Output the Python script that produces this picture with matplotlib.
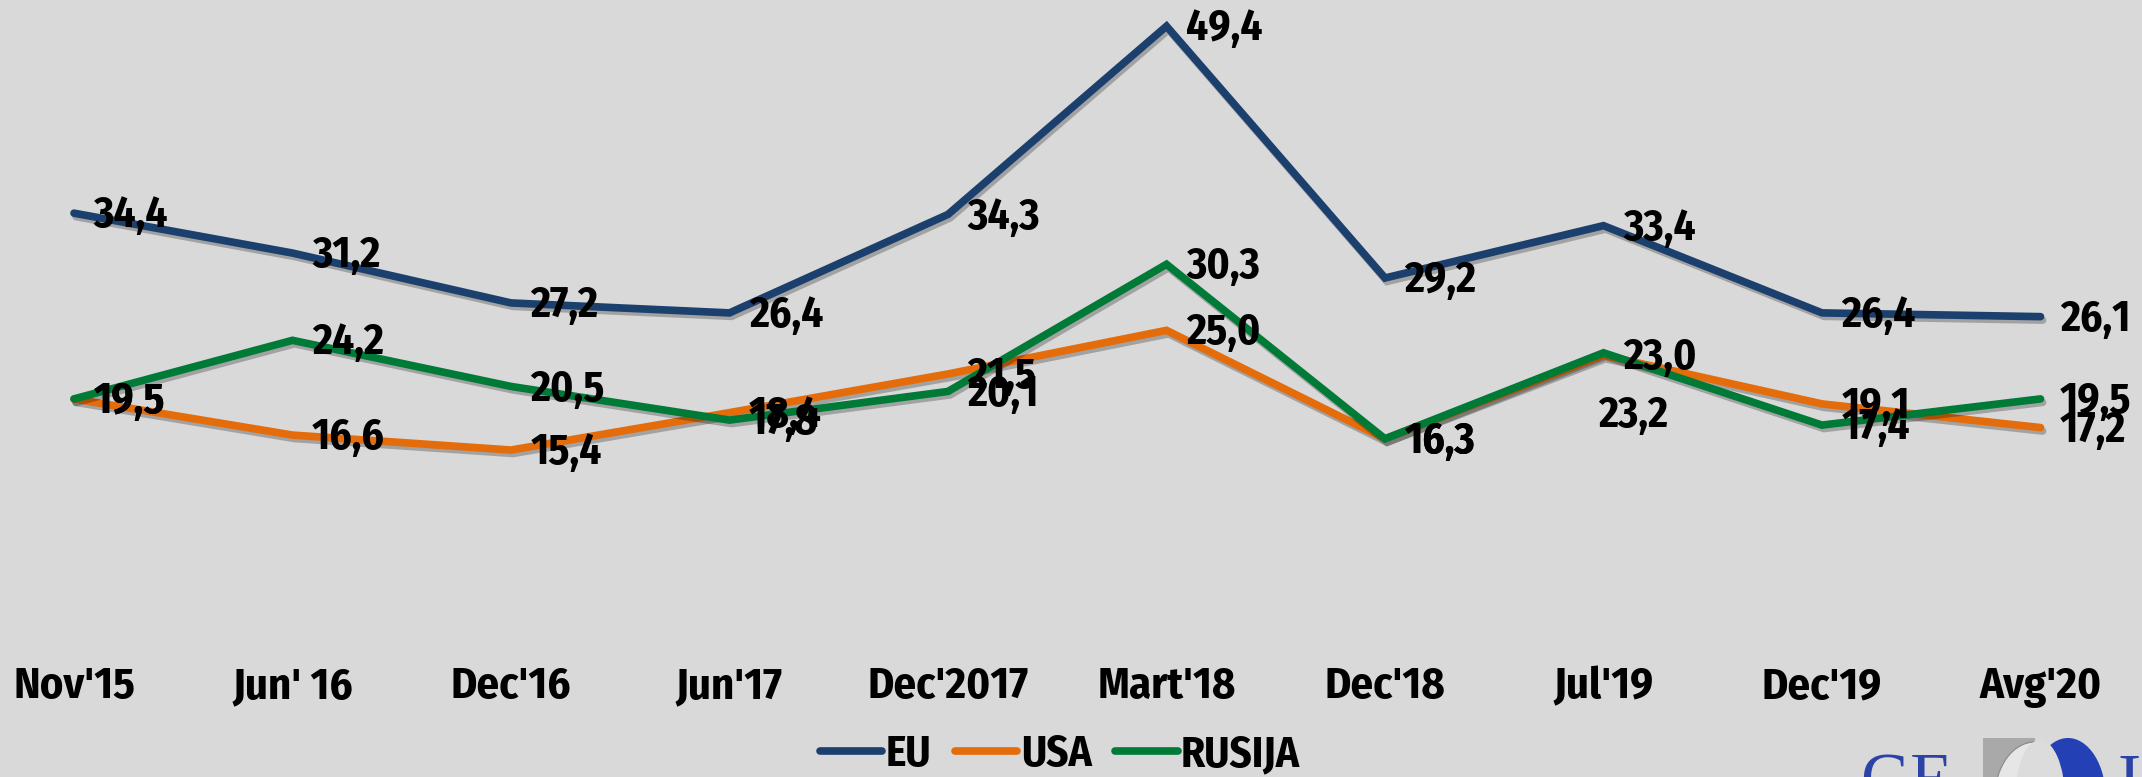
import matplotlib
matplotlib.use("Agg")
import matplotlib.pyplot as plt
import matplotlib.patheffects as pe
from matplotlib.patches import Rectangle, Ellipse

categories = ["Nov'15", "Jun' 16", "Dec'16", "Jun'17", "Dec'2017",
              "Mart'18", "Dec'18", "Jul'19", "Dec'19", "Avg'20"]
eu = [34.4, 31.2, 27.2, 26.4, 34.3, 49.4, 29.2, 33.4, 26.4, 26.1]
usa = [19.5, 16.6, 15.4, 18.4, 21.5, 25.0, 16.3, 23.0, 19.1, 17.2]
rusija = [19.5, 24.2, 20.5, 17.8, 20.1, 30.3, 16.3, 23.2, 17.4, 19.5]
series_names = ["EU", "USA", "RUSIJA"]

colors = ["#1C406E", "#E46C0A", "#007A37"]
bg = "#D9D9D9"
FONT = ["Fira Sans Condensed", "DejaVu Sans"]
plt.rcParams['font.family'] = FONT

W, H = 2142, 777
fig = plt.figure(figsize=(W / 100, H / 100), dpi=100, facecolor=bg)
ax = fig.add_axes([0, 1 - 642 / H, 1, 642 / H])
ax.set_facecolor(bg)
x0_px, step_px = 74, 218.5
ax.set_xlim(-x0_px / step_px, (W - x0_px) / step_px)
ax.set_ylim(0, 51.5)
for s in ax.spines.values():
    s.set_visible(False)
ax.set_yticks([])
xs = list(range(len(categories)))
ax.set_xticks(xs)
ax.set_xticklabels(categories, fontsize=32, fontweight='bold', color='black')
ax.tick_params(axis='x', length=0, pad=17)

shadow = [pe.SimpleLineShadow(offset=(1.5, -2.5), alpha=0.25, shadow_color='black'),
          pe.Normal()]
data = [eu, usa, rusija]
zs = [3, 2, 4]
for vals, c, name, z in zip(data, colors, series_names, zs):
    ax.plot(xs, vals, color=c, lw=5.5, label=name, zorder=z,
            solid_capstyle='round', solid_joinstyle='miter', path_effects=shadow)

def fmt(v):
    return f"{v:.1f}".replace('.', ',')

for si, vals in enumerate(data):
    for i, v in enumerate(vals):
        dx, dy = 14, -2
        ha = 'left'
        if si == 2 and i == 7:
            dx, dy = 21, -45
            ha = 'center'
        ax.annotate(fmt(v), (i, v), xytext=(dx, dy), textcoords='offset points',
                    ha=ha, va='center', fontsize=31, fontweight='bold',
                    color='black', zorder=6, annotation_clip=False)

leg = fig.legend(loc='center', bbox_to_anchor=(1060 / W, 1 - 755 / H), ncol=3,
                 frameon=False, handlelength=1.45, handletextpad=0.08,
                 columnspacing=0.55, prop={'weight': 'bold', 'size': 31, 'family': FONT})
for line in leg.get_lines():
    line.set_linewidth(5.5)
    line.set_solid_capstyle('round')
    line.set_path_effects([])

# partial logo in the bottom right corner
fig.text(1860 / W, -25 / H, "GE", fontsize=50, family="Liberation Serif",
         color="#2B43A6", ha='left', va='baseline')
fig.patches.append(Rectangle((1983 / W, 0), 52 / W, 39 / H, transform=fig.transFigure,
                             facecolor="#A9A9A9", edgecolor='none'))
fig.patches.append(Ellipse((2035 / W, -20 / H), 80 / W, 110 / H, transform=fig.transFigure,
                           facecolor="#E6E6E6", edgecolor='#888888', lw=0.8))
fig.patches.append(Ellipse((2068 / W, -22 / H), 76 / W, 122 / H, transform=fig.transFigure,
                           facecolor="#2340B4", edgecolor='none'))
fig.patches.append(Ellipse((2040 / W, -22 / H), 50 / W, 118 / H, transform=fig.transFigure,
                           facecolor="#DCDCDC", edgecolor='none'))
fig.text(2118 / W, -25 / H, "I", fontsize=50, family="Liberation Serif",
         color="#2B43A6", ha='left', va='baseline')

fig.savefig("out.png", dpi=100, facecolor=bg)
